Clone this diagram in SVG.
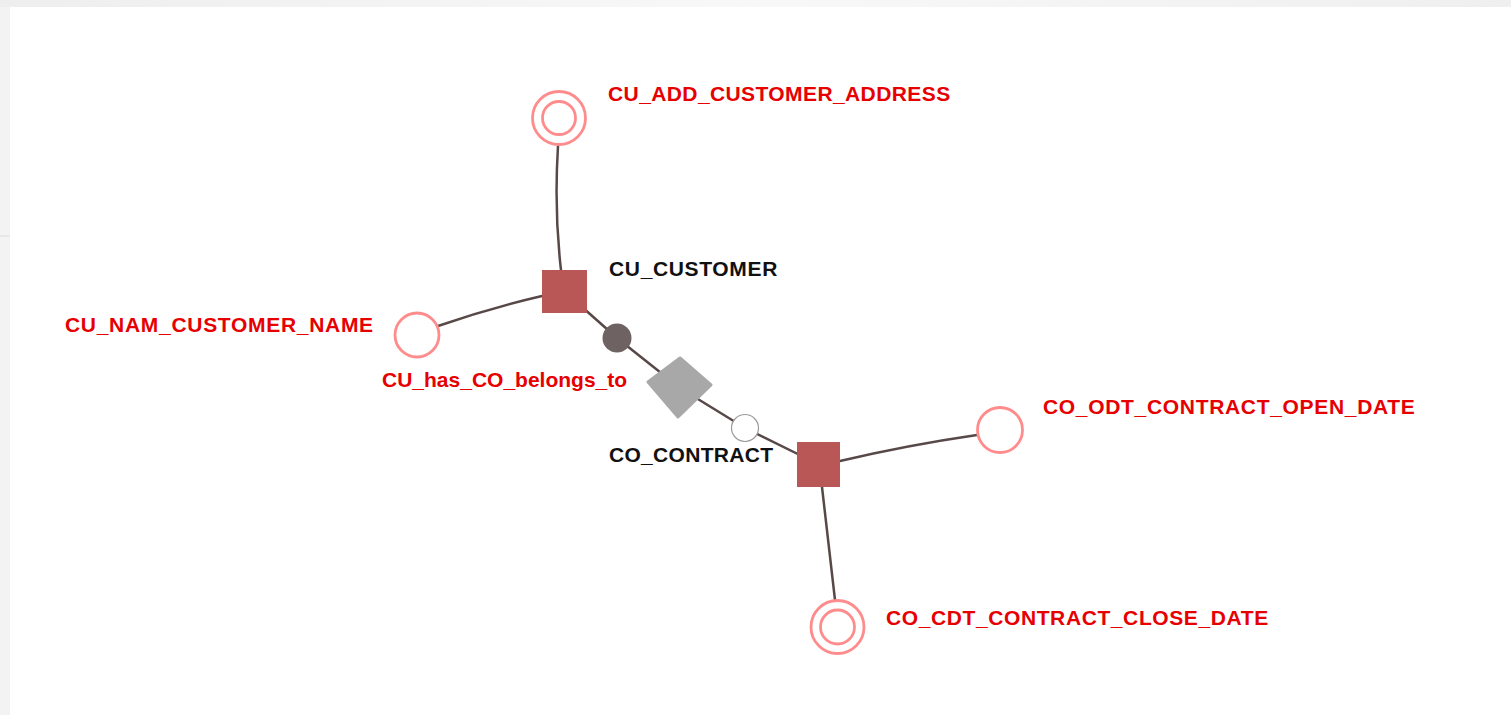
<svg xmlns="http://www.w3.org/2000/svg" width="1511" height="715" viewBox="0 0 1511 715">
  <defs>
    <linearGradient id="bandTop" x1="0" y1="0" x2="1" y2="0">
      <stop offset="0" stop-color="#eeeeee"/>
      <stop offset="0.5" stop-color="#f8f8f8"/>
      <stop offset="1" stop-color="#efefef"/>
    </linearGradient>
    <style>
      .edge { fill: none; stroke: #584848; stroke-width: 2.5; stroke-linecap: round; }
      .entity { fill: #b95656; }
      .attr { fill: #ffffff; stroke: #ff8c8c; stroke-width: 2.8; }
      .lbl { font-family: "Liberation Sans", Arial, sans-serif; font-size: 21px; font-weight: bold; }
      .red { fill: #e60000; }
      .black { fill: #111111; }
    </style>
  </defs>

  <!-- page frame -->
  <rect x="0" y="0" width="1511" height="715" fill="#f3f3f3"/>
  <rect x="0" y="0" width="1511" height="7" fill="url(#bandTop)"/>
  <rect x="10" y="7" width="1501" height="708" fill="#ffffff"/>
  <line x1="0" y1="236" x2="10" y2="236" stroke="#dddddd" stroke-width="1"/>

  <!-- connectors -->
  <g id="connectors">
    <path class="edge" d="M558,146 Q554,210 561,270"/>
    <path class="edge" d="M438,326 Q490,308 542,296"/>
    <path class="edge" d="M564,291 L617,338 L680,388 L745,428 L818,464"/>
    <path class="edge" d="M840,461 Q908,445 977,435"/>
    <path class="edge" d="M822,487 L835,600"/>
  </g>

  <!-- CU_ADD_CUSTOMER_ADDRESS -->
  <g id="cu_add_customer_address">
    <circle class="attr" cx="559" cy="118" r="26.5"/>
    <circle class="attr" cx="559" cy="118" r="16.5"/>
    <text class="lbl red" x="608" y="101" letter-spacing="0.4">CU_ADD_CUSTOMER_ADDRESS</text>
  </g>

  <!-- CU_CUSTOMER -->
  <g id="cu_customer">
    <rect class="entity" x="542" y="270" width="45" height="43"/>
    <text class="lbl black" x="609" y="276" letter-spacing="0.65">CU_CUSTOMER</text>
  </g>

  <!-- CU_NAM_CUSTOMER_NAME -->
  <g id="cu_nam_customer_name">
    <circle class="attr" cx="417" cy="335" r="22"/>
    <text class="lbl red" x="65" y="332" letter-spacing="0.7">CU_NAM_CUSTOMER_NAME</text>
  </g>

  <!-- CU_has_CO_belongs_to tie -->
  <g id="cu_has_co_belongs_to">
    <circle cx="617" cy="338" r="14.5" fill="#6e6262"/>
    <polygon points="680,358 711,385 678,417 648,382" fill="#a8a8a8" stroke="#a8a8a8" stroke-width="3" stroke-linejoin="round"/>
    <circle cx="745" cy="428" r="13.5" fill="#ffffff" stroke="#9a9a9a" stroke-width="1.2"/>
    <text class="lbl red" x="382" y="386.5">CU_has_CO_belongs_to</text>
  </g>

  <!-- CO_CONTRACT -->
  <g id="co_contract">
    <rect class="entity" x="797" y="442" width="43" height="45"/>
    <text class="lbl black" x="609" y="461.5" letter-spacing="0.3">CO_CONTRACT</text>
  </g>

  <!-- CO_ODT_CONTRACT_OPEN_DATE -->
  <g id="co_odt_contract_open_date">
    <circle class="attr" cx="1000" cy="430" r="22.5"/>
    <text class="lbl red" x="1043" y="414" letter-spacing="0.68">CO_ODT_CONTRACT_OPEN_DATE</text>
  </g>

  <!-- CO_CDT_CONTRACT_CLOSE_DATE -->
  <g id="co_cdt_contract_close_date">
    <circle class="attr" cx="837.5" cy="627" r="26.5"/>
    <circle class="attr" cx="837.5" cy="627" r="17"/>
    <text class="lbl red" x="886" y="625" letter-spacing="0.6">CO_CDT_CONTRACT_CLOSE_DATE</text>
  </g>
</svg>
